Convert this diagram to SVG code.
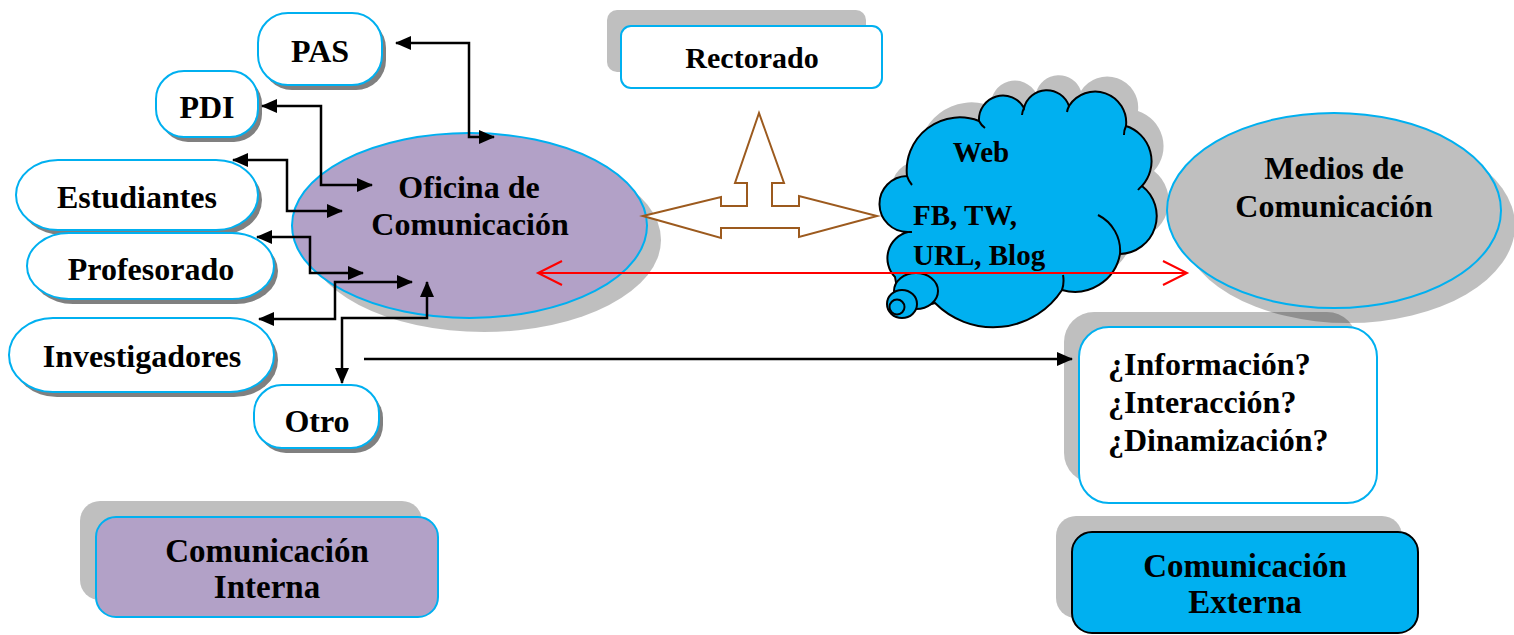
<svg xmlns="http://www.w3.org/2000/svg" width="1514" height="635" viewBox="0 0 1514 635">
<style>
text{font-family:"Liberation Serif","Times New Roman",serif;font-weight:bold;fill:#000;font-size:32px}
.c{text-anchor:middle}
.pill{fill:#fff;stroke:#00b0f0;stroke-width:2}
.dsh{fill:#808080}
.sh{fill:#000;fill-opacity:0.25}
.conn{fill:none;stroke:#000;stroke-width:2.5}
</style>
<defs>
<marker id="ah" markerUnits="userSpaceOnUse" markerWidth="16" markerHeight="14" refX="15" refY="7" orient="auto-start-reverse">
<path d="M0,0 L16,7 L0,14 z" fill="#000"/>
</marker>
<marker id="rv" markerUnits="userSpaceOnUse" markerWidth="28" markerHeight="28" refX="25" refY="13" orient="auto-start-reverse">
<path d="M1,1 L25,13 L1,25" fill="none" stroke="#f00" stroke-width="2"/>
</marker>
<path id="cloud" d="M907,176 A53,53 0 0,1 979,121 A24,24 0 0,1 1024,108 A23.5,23.5 0 0,1 1069,106 A31,31 0 0,1 1126,126 A37,37 0 0,1 1142,186 A38,38 0 0,1 1120,254 A46,46 0 0,1 1062,290 A82,82 0 0,1 935,303 A30,30 0 0,1 895,277 A27,27 0 0,1 908,232 A28,28 0 0,1 907,176 Z"/>
</defs>

<g id="oficina">
<ellipse cx="484" cy="240" rx="177" ry="92" class="sh"/>
<ellipse cx="469.5" cy="225.5" rx="177.5" ry="92.5" fill="#b2a1c7" stroke="#00b0f0" stroke-width="2"/>
<text x="469" y="198" class="c">Oficina de</text>
<text x="470" y="235" class="c">Comunicación</text>
</g>

<g id="pas">
<rect x="262" y="18" width="124" height="72" rx="30" ry="30" class="dsh"/>
<rect x="258" y="13" width="124" height="72" rx="30" ry="30" class="pill"/>
<text x="320" y="62" class="c">PAS</text>
</g>
<g id="pdi">
<rect x="160" y="76" width="102" height="66" rx="28" ry="28" class="dsh"/>
<rect x="156" y="71" width="102" height="66" rx="28" ry="28" class="pill"/>
<text x="207" y="118" class="c">PDI</text>
</g>
<g id="estudiantes">
<rect x="20" y="165" width="242" height="70" rx="42" ry="35" class="dsh"/>
<rect x="16" y="160" width="242" height="70" rx="42" ry="35" class="pill"/>
<text x="137" y="208" class="c">Estudiantes</text>
</g>
<g id="profesorado">
<rect x="31" y="238" width="247" height="66" rx="42" ry="33" class="dsh"/>
<rect x="27" y="233" width="247" height="66" rx="42" ry="33" class="pill"/>
<text x="151" y="280" class="c">Profesorado</text>
</g>
<g id="investigadores">
<rect x="13" y="323" width="265" height="74" rx="44" ry="37" class="dsh"/>
<rect x="9" y="318" width="265" height="74" rx="44" ry="37" class="pill"/>
<text x="142" y="367" class="c">Investigadores</text>
</g>
<g id="otro">
<rect x="258" y="390" width="125" height="63" rx="28" ry="28" class="dsh"/>
<rect x="254" y="385" width="125" height="63" rx="28" ry="28" class="pill"/>
<text x="317" y="432" class="c">Otro</text>
</g>

<g id="rectorado">
<rect x="607" y="10" width="259" height="62" rx="10" class="sh"/>
<rect x="621" y="26" width="261" height="62" rx="10" fill="#fff" stroke="#00b0f0" stroke-width="2"/>
<text x="752" y="68" class="c" style="font-size:30px">Rectorado</text>
</g>

<g id="tri-arrow">
<polygon points="643,216 721,197 721,206 747,206 747,183 735,183 759,113 784,183 772,183 772,206 799,206 799,196 877,216 799,237 799,228 721,228 721,238" fill="#fff" stroke="#9c5a1e" stroke-width="2" stroke-linejoin="miter"/>
</g>

<g id="web">
<use href="#cloud" transform="translate(12,-15)" fill="#000" fill-opacity="0.25"/>
<use href="#cloud" fill="#00b0f0" stroke="#000" stroke-width="2"/>
<path d="M1098,215 A40,40 0 0,1 1120,254 M1062,290 A30,30 0 0,0 1063,275 M907,176 A25,25 0 0,0 912,185 M979,121 A20,20 0 0,0 985,128 M1024,108 A20,20 0 0,0 1022,115 M1069,106 A20,20 0 0,0 1067,112 M1126,126 A20,20 0 0,0 1124,135 M1142,186 A20,20 0 0,0 1138,190 M908,232 A20,20 0 0,0 912,232" fill="none" stroke="#000" stroke-width="2"/>
<ellipse cx="916" cy="291" rx="22" ry="18" fill="#00b0f0" stroke="#000" stroke-width="2"/>
<ellipse cx="902" cy="304" rx="15" ry="14" fill="#00b0f0" stroke="#000" stroke-width="2"/>
<circle cx="897" cy="307" r="7.5" fill="#00b0f0" stroke="#000" stroke-width="2"/>
<text x="981" y="162" class="c" style="font-size:29px">Web</text>
<text x="913" y="225" style="font-size:29px">FB, TW,</text>
<text x="913" y="265" style="font-size:29px">URL, Blog</text>
</g>

<g id="medios">
<ellipse cx="1348" cy="225.5" rx="167" ry="97.5" class="sh"/>
<ellipse cx="1334" cy="210.5" rx="167" ry="97.5" fill="#bfbfbf" stroke="#00b0f0" stroke-width="2"/>
<text x="1334" y="179" class="c">Medios de</text>
<text x="1334" y="217" class="c">Comunicación</text>
</g>

<g id="preguntas">
<rect x="1064" y="312" width="293" height="171" rx="30" class="sh"/>
<rect x="1079" y="327" width="298" height="176" rx="30" fill="#fff" stroke="#00b0f0" stroke-width="2"/>
<text x="1108" y="375">¿Información?</text>
<text x="1108" y="413">¿Interacción?</text>
<text x="1108" y="451">¿Dinamización?</text>
</g>

<g id="interna">
<rect x="80" y="501" width="342" height="99" rx="20" class="sh"/>
<rect x="96" y="517" width="342" height="100" rx="20" fill="#b2a1c7" stroke="#00b0f0" stroke-width="2"/>
<text x="267" y="562" class="c" style="font-size:33px">Comunicación</text>
<text x="267" y="598" class="c" style="font-size:33px">Interna</text>
</g>

<g id="externa">
<rect x="1056" y="516" width="346" height="102" rx="20" class="sh"/>
<rect x="1072" y="532" width="346" height="101" rx="20" fill="#00b0f0" stroke="#000" stroke-width="2"/>
<text x="1245" y="577" class="c" style="font-size:33px">Comunicación</text>
<text x="1245" y="613" class="c" style="font-size:33px">Externa</text>
</g>

<g id="connectors">
<path class="conn" d="M396,43 H469 V137 H494" marker-start="url(#ah)" marker-end="url(#ah)"/>
<path class="conn" d="M262,106 H321 V185 H372" marker-start="url(#ah)" marker-end="url(#ah)"/>
<path class="conn" d="M233,160 H287 V211 H342" marker-start="url(#ah)" marker-end="url(#ah)"/>
<path class="conn" d="M257,237 H310 V273 H363" marker-start="url(#ah)" marker-end="url(#ah)"/>
<path class="conn" d="M259,319 H335 V282 H412" marker-start="url(#ah)" marker-end="url(#ah)"/>
<path class="conn" d="M427,282 V318 H342 V383" marker-start="url(#ah)" marker-end="url(#ah)"/>
<path class="conn" d="M364,359 H1072" marker-end="url(#ah)"/>
<path d="M538,273 H1187" fill="none" stroke="#f00" stroke-width="2" marker-start="url(#rv)" marker-end="url(#rv)"/>
</g>
</svg>
